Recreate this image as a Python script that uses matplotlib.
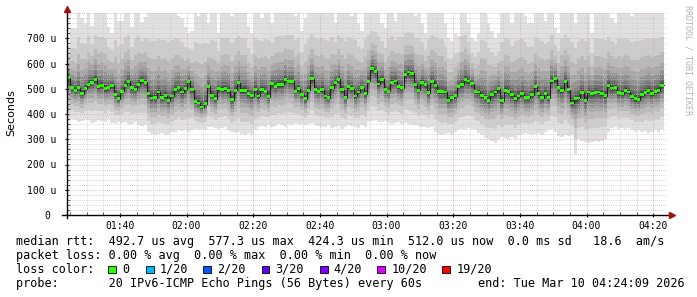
import numpy as np
import matplotlib
matplotlib.use("Agg")
import matplotlib.pyplot as plt
from matplotlib.patches import Rectangle

# --- data (values in microseconds, one per minute) ---
median = [
    544, 504, 494, 504, 480, 500, 517, 526, 537, 508,
    513, 500, 504, 513, 477, 460, 490, 513, 529, 504,
    497, 517, 533, 526, 481, 463, 465, 487, 466, 473,
    453, 471, 497, 504, 487, 500, 529, 497, 449, 444,
    428, 441, 510, 473, 460, 500, 497, 500, 493, 457,
    494, 524, 494, 494, 481, 473, 497, 471, 497, 490,
    468, 520, 510, 517, 517, 537, 529, 529, 490, 500,
    476, 460, 494, 540, 497, 490, 497, 471, 464, 504,
    526, 537, 497, 464, 508, 500, 471, 487, 504, 481,
    529, 580, 569, 519, 537, 497, 490, 526, 531, 508,
    504, 557, 566, 561, 517, 494, 526, 517, 484, 529,
    513, 490, 489, 487, 455, 464, 473, 510, 517, 537,
    531, 520, 489, 487, 473, 464, 455, 476, 487, 500,
    453, 494, 490, 476, 460, 471, 481, 464, 464, 477,
    508, 481, 464, 481, 464, 531, 540, 504, 494, 529,
    497, 444, 460, 463, 484, 455, 487, 481, 484, 487,
    481, 473, 513, 503, 506, 484, 481, 493, 487, 468,
    460, 457, 476, 484, 494, 481, 489, 493, 513,
]
ping_max = [
    670, 740, 735, 800, 780, 760, 800, 750, 800, 800,
    800, 800, 745, 720, 800, 770, 770, 800, 800, 745,
    800, 800, 765, 785, 800, 800, 800, 800, 800, 800,
    800, 800, 800, 790, 780, 745, 720, 730, 800, 790,
    800, 800, 760, 800, 800, 720, 800, 800, 800, 790,
    800, 800, 800, 800, 750, 720, 800, 800, 780, 800,
    800, 760, 800, 800, 800, 800, 800, 800, 790, 800,
    730, 780, 800, 800, 800, 800, 800, 800, 800, 800,
    760, 800, 800, 800, 800, 790, 800, 760, 730, 800,
    800, 800, 800, 800, 760, 740, 800, 800, 770, 800,
    800, 800, 800, 800, 790, 800, 760, 720, 800, 800,
    800, 800, 800, 760, 700, 690, 720, 710, 800, 800,
    760, 700, 690, 720, 800, 800, 760, 730, 700, 720,
    800, 800, 800, 760, 800, 800, 800, 790, 760, 760,
    800, 800, 800, 770, 800, 800, 740, 720, 800, 800,
    800, 800, 760, 800, 800, 800, 800, 720, 800, 800,
    800, 800, 800, 780, 760, 800, 800, 800, 800, 790,
    800, 800, 800, 800, 800, 800, 800, 800, 800,
]
ping_min = [
    372, 380, 375, 368, 372, 380, 378, 366, 370, 375,
    372, 368, 380, 366, 362, 370, 365, 368, 360, 362,
    368, 358, 352, 355, 330, 322, 318, 320, 325, 318,
    322, 330, 328, 335, 332, 336, 330, 338, 340, 335,
    342, 338, 348, 350, 345, 340, 346, 350, 338, 330,
    325, 330, 322, 318, 326, 318, 335, 348, 352, 350,
    355, 348, 352, 360, 355, 350, 362, 358, 365, 360,
    362, 355, 360, 365, 358, 352, 350, 348, 355, 345,
    350, 352, 342, 348, 355, 352, 350, 345, 355, 350,
    368, 372, 375, 370, 368, 372, 366, 362, 365, 370,
    362, 365, 360, 355, 358, 352, 350, 348, 345, 350,
    330, 320, 318, 322, 325, 318, 330, 335, 340, 338,
    345, 340, 335, 325, 315, 305, 300, 295, 286, 300,
    310, 305, 302, 310, 300, 315, 320, 325, 320, 318,
    322, 325, 318, 330, 335, 340, 328, 312, 310, 315,
    312, 318, 240, 300, 295, 288, 285, 290, 292, 288,
    295, 300, 330, 345, 348, 342, 345, 340, 345, 338,
    330, 335, 328, 332, 325, 330, 338, 330, 340,
]

start_min = 84 + 9 / 60.0          # 01:24:09
end_min = start_min + 180          # 04:24:09
xtick_pos = [100, 120, 140, 160, 180, 200, 220, 240, 260]
xtick_labels = ["01:40", "02:00", "02:20", "02:40", "03:00",
                "03:20", "03:40", "04:00", "04:20"]
ytick_pos = [0, 100, 200, 300, 400, 500, 600, 700]
ytick_labels = ["0 ", "100 u", "200 u", "300 u", "400 u", "500 u", "600 u", "700 u"]

loss_labels = ["0", "1/20", "2/20", "3/20", "4/20", "10/20", "19/20"]
loss_colors = ["#26ff00", "#00b8ff", "#0059ff", "#5e00ff", "#7e00ff", "#dd00ff", "#ff0000"]

MONO = "DejaVu Sans Mono"
W, H = 697, 297

med = np.array(median, float)
top = np.array(ping_max, float)
bot = np.array(ping_min, float)
edges = start_min + np.arange(len(med) + 1)


def ext(a):
    return np.append(a, a[-1])


fig = plt.figure(figsize=(W / 100, H / 100), dpi=100)
fig.patch.set_facecolor("white")
ax = fig.add_axes([67 / W, (H - 215) / H, 600 / W, 202 / H])
ax.set_xlim(start_min, end_min)
ax.set_ylim(0, 800)

# smoke: outer layers light, inner layers dark (upper side more compressed)
spread = [1.0, 0.72, 0.52, 0.38, 0.28, 0.20, 0.14, 0.09, 0.055, 0.03]
for k, g in enumerate(spread):
    shade = int(224 - k * (224 - 50) / (len(spread) - 1))
    col = "#%02x%02x%02x" % (shade, shade, shade)
    lo = med - (med - bot) * g
    hi = med + (top - med) * g ** 1.2
    ax.fill_between(edges, ext(lo), ext(hi), step="post", color=col, lw=0, zorder=1)

# grid on top of smoke
for y in range(20, 800, 20):
    if y % 100:
        ax.axhline(y, color="#c8c8c8", lw=0.6, ls=(0, (1, 1.5)), zorder=3)
for y in range(100, 801, 100):
    ax.axhline(y, color="#e6a0a0", lw=0.6, ls=(0, (1, 1.5)), zorder=3)
for x in np.arange(85, 265, 5):
    if x % 20:
        ax.axvline(x, color="#c8c8c8", lw=0.6, ls=(0, (1, 1.5)), zorder=3)
for x in xtick_pos:
    ax.axvline(x, color="#e6a0a0", lw=0.6, ls=(0, (1, 1.5)), zorder=3)

# median line with loss-coloured band
ax.step(edges, ext(med), where="post", color="#202020", lw=0.8, zorder=4)
ax.fill_between(edges, ext(med - 5.5), ext(med + 5.5), step="post",
                color=loss_colors[0], lw=0, zorder=5)

for s in ax.spines.values():
    s.set_visible(False)
ax.plot([0, 0], [-0.015, 1.02], color="black", lw=1, transform=ax.transAxes, clip_on=False, zorder=6)
ax.plot([-0.008, 1.008], [0, 0], color="black", lw=1, transform=ax.transAxes, clip_on=False, zorder=6)
ax.plot([0], [1 + 4 / 202], marker="^", ms=4, color="#a01010", transform=ax.transAxes, clip_on=False, zorder=7)
ax.plot([1 + 5 / 600], [0], marker=">", ms=4, color="#a01010", transform=ax.transAxes, clip_on=False, zorder=7)

ax.set_xticks(xtick_pos)
ax.set_xticklabels(xtick_labels, fontfamily=MONO, fontsize=7)
ax.set_xticks(np.arange(85, 265, 5), minor=True)
ax.set_yticks(ytick_pos)
ax.set_yticklabels(ytick_labels, fontfamily=MONO, fontsize=7)
ax.set_yticks(np.arange(0, 800, 20), minor=True)
ax.tick_params(axis="both", which="major", length=3, width=0.8, direction="inout", pad=2.5)
ax.tick_params(axis="both", which="minor", length=2, width=0.6, direction="in")
ax.tick_params(axis="y", which="major", pad=6)

fig.text(11 / W, 1 - 113 / H, "Seconds", rotation=90, ha="center", va="center",
         fontsize=8, family="DejaVu Sans")
fig.text(688 / W, 1 - 5 / H, "RRDTOOL / TOBI OETIKER", rotation=270, ha="center", va="top",
         fontsize=6, family=MONO, color="#b4b4b4")


def legend(x, y, s):
    fig.text(x / W, 1 - y / H, s, ha="left", va="baseline", fontsize=8.5, family=MONO)


legend(16, 245.3, "median rtt:  492.7 us avg  577.3 us max  424.3 us min  512.0 us now  0.0 ms sd   18.6  am/s")
legend(16, 259, "packet loss: 0.00 % avg  0.00 % max  0.00 % min  0.00 % now")
legend(16, 273, "loss color:")
sq_x = [108.3, 146, 203.3, 261.7, 320, 377.3, 442.3]
lab_x = [123.3, 160.7, 218.3, 276, 334.7, 392.3, 457.3]
for sx, lx, lab, col in zip(sq_x, lab_x, loss_labels, loss_colors):
    fig.add_artist(Rectangle((sx / W, 1 - 273 / H), 7.5 / W, 7.5 / H, transform=fig.transFigure,
                             facecolor=col, edgecolor="black", lw=0.6))
    legend(lx - 1, 273, lab)
legend(16, 286.7, "probe:       20 IPv6-ICMP Echo Pings (56 Bytes) every 60s")
legend(478.3, 286.7, "end: Tue Mar 10 04:24:09 2026")

fig.savefig("out.png", dpi=100)
